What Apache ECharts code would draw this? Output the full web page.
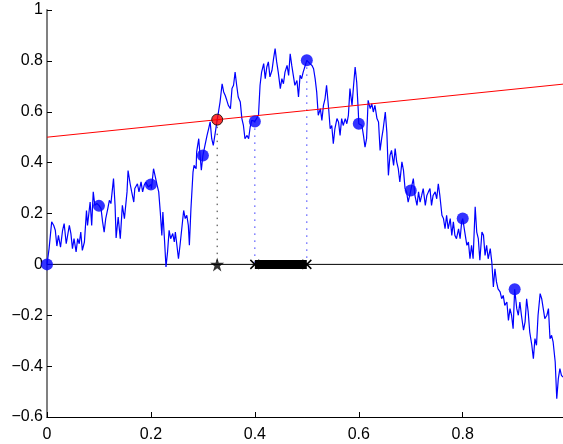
<!DOCTYPE html>
<html>
<head>
<meta charset="utf-8">
<script src="https://cdn.jsdelivr.net/npm/echarts@6/dist/echarts.min.js"></script>
<style>
  html, body { margin: 0; padding: 0; background: #fff; }
  #chart { width: 563px; height: 444px; }
</style>
</head>
<body>
<div id="chart"></div>
<script>
// random walk path
const walk = [
  [0,0],[0.004,0.062],[0.009,0.167],[0.013,0.153],[0.016,0.134],[0.019,0.072],[0.022,0.114],[0.026,0.068],[0.030,0.134],[0.033,0.160],
  [0.037,0.081],[0.040,0.075],[0.043,0.153],[0.046,0.121],[0.049,0.062],[0.052,0.101],[0.056,0.049],[0.059,0.101],[0.062,0.081],[0.065,0.127],
  [0.068,0.055],[0.072,0.088],[0.076,0.212],[0.078,0.153],[0.083,0.245],[0.086,0.153],[0.089,0.285],[0.092,0.232],[0.096,0.239],[0.100,0.232],
  [0.104,0.219],[0.107,0.167],[0.110,0.127],[0.113,0.180],[0.117,0.219],[0.120,0.252],[0.123,0.239],[0.128,0.337],[0.131,0.232],[0.133,0.104],
  [0.137,0.186],[0.141,0.101],[0.145,0.232],[0.149,0.180],[0.154,0.285],[0.156,0.369],[0.160,0.317],[0.163,0.285],[0.167,0.245],[0.169,0.298],
  [0.174,0.317],[0.177,0.285],[0.181,0.324],[0.184,0.285],[0.187,0.311],[0.190,0.324],[0.195,0.304],[0.200,0.314],[0.201,0.298],[0.205,0.376],
  [0.212,0.311],[0.215,0.285],[0.218,0.206],[0.221,0.114],[0.223,0.206],[0.226,0.101],[0.229,-0.010],[0.232,0.049],[0.235,0.134],[0.238,0.101],
  [0.242,0.121],[0.245,0.088],[0.247,0.127],[0.250,0.075],[0.253,0.022],[0.256,0.075],[0.260,0.153],[0.263,0.212],[0.266,0.180],[0.269,0.193],
  [0.272,0.153],[0.274,0.075],[0.277,0.219],[0.281,0.363],[0.283,0.389],[0.287,0.376],[0.288,0.442],[0.292,0.494],[0.294,0.442],[0.297,0.370],
  [0.300,0.428],[0.304,0.468],[0.308,0.507],[0.311,0.533],[0.314,0.560],[0.317,0.494],[0.320,0.468],[0.324,0.520],[0.3275,0.569],[0.330,0.599],
  [0.333,0.638],[0.337,0.710],[0.340,0.678],[0.343,0.664],[0.346,0.645],[0.349,0.625],[0.353,0.612],[0.356,0.691],[0.359,0.704],[0.362,0.756],
  [0.365,0.704],[0.368,0.658],[0.372,0.638],[0.375,0.573],[0.378,0.546],[0.381,0.494],[0.385,0.507],[0.388,0.494],[0.391,0.540],[0.394,0.566],
  [0.400,0.562],[0.407,0.586],[0.410,0.704],[0.413,0.756],[0.417,0.789],[0.420,0.730],[0.423,0.776],[0.426,0.796],[0.429,0.737],[0.433,0.763],
  [0.436,0.809],[0.439,0.848],[0.442,0.796],[0.445,0.756],[0.449,0.691],[0.452,0.730],[0.455,0.710],[0.458,0.756],[0.462,0.782],[0.465,0.743],
  [0.468,0.828],[0.471,0.782],[0.474,0.743],[0.477,0.704],[0.481,0.723],[0.484,0.658],[0.487,0.743],[0.490,0.730],[0.493,0.756],[0.497,0.782],
  [0.500,0.802],[0.506,0.789],[0.510,0.782],[0.513,0.769],[0.516,0.730],[0.519,0.678],[0.522,0.586],[0.526,0.612],[0.529,0.566],[0.532,0.625],
  [0.535,0.651],[0.538,0.704],[0.542,0.612],[0.545,0.533],[0.548,0.546],[0.551,0.474],[0.554,0.533],[0.558,0.573],[0.561,0.560],[0.564,0.507],
  [0.567,0.573],[0.570,0.546],[0.574,0.573],[0.577,0.553],[0.580,0.586],[0.583,0.691],[0.587,0.625],[0.590,0.704],[0.593,0.776],[0.596,0.717],
  [0.599,0.605],[0.600,0.553],[0.606,0.546],[0.609,0.507],[0.612,0.461],[0.615,0.494],[0.618,0.645],[0.622,0.612],[0.625,0.632],[0.628,0.599],
  [0.631,0.625],[0.635,0.573],[0.638,0.560],[0.641,0.448],[0.644,0.494],[0.647,0.533],[0.651,0.599],[0.654,0.520],[0.657,0.350],[0.660,0.428],
  [0.663,0.448],[0.667,0.389],[0.670,0.455],[0.673,0.403],[0.676,0.376],[0.679,0.324],[0.683,0.403],[0.686,0.370],[0.689,0.298],[0.692,0.285],
  [0.695,0.245],[0.700,0.290],[0.705,0.337],[0.708,0.271],[0.712,0.232],[0.715,0.285],[0.718,0.245],[0.721,0.271],[0.724,0.298],[0.728,0.232],
  [0.731,0.271],[0.734,0.285],[0.737,0.298],[0.740,0.232],[0.743,0.271],[0.747,0.285],[0.750,0.258],[0.753,0.317],[0.756,0.271],[0.760,0.193],
  [0.763,0.180],[0.766,0.140],[0.769,0.193],[0.772,0.140],[0.776,0.180],[0.779,0.114],[0.782,0.167],[0.785,0.114],[0.788,0.101],[0.792,0.140],
  [0.795,0.101],[0.798,0.167],[0.800,0.180],[0.804,0.127],[0.808,0.075],[0.811,0.088],[0.814,0.022],[0.817,0.075],[0.820,0.022],[0.824,0.226],
  [0.827,0.127],[0.830,0.101],[0.833,0.016],[0.837,0.127],[0.840,0.114],[0.843,0.035],[0.846,0.075],[0.849,0.022],[0.853,0.062],[0.856,0.009],
  [0.859,-0.089],[0.862,-0.017],[0.865,-0.069],[0.868,-0.096],[0.872,-0.108],[0.875,-0.135],[0.878,-0.122],[0.881,-0.161],[0.885,-0.148],[0.888,-0.220],
  [0.891,-0.174],[0.894,-0.200],[0.897,-0.253],[0.900,-0.098],[0.904,-0.174],[0.907,-0.200],[0.910,-0.148],[0.913,-0.200],[0.917,-0.259],[0.920,-0.226],
  [0.923,-0.135],[0.926,-0.187],[0.929,-0.266],[0.933,-0.318],[0.936,-0.371],[0.939,-0.292],[0.942,-0.318],[0.945,-0.200],[0.949,-0.115],[0.952,-0.135],
  [0.955,-0.174],[0.958,-0.213],[0.962,-0.200],[0.965,-0.174],[0.968,-0.292],[0.971,-0.279],[0.974,-0.305],[0.978,-0.384],[0.981,-0.528],[0.984,-0.449],
  [0.987,-0.410],[0.990,-0.436],[0.993,-0.443]
];

// sampled points (blue dots)
const sampleX = [0, 0.1, 0.2, 0.3, 0.4, 0.5, 0.6, 0.7, 0.8, 0.9];
const sampleY = [0, 0.23, 0.314, 0.428, 0.562, 0.802, 0.553, 0.29, 0.18, -0.098];

// red chord and the point where it meets the path
const chordX = [0, 1];
const chordY = [0.5, 0.71];
const hitX = 0.3275;
const hitY = 0.569;

// dotted drops to the axis and the marked band
const dropX = [0.3275, 0.4, 0.5];
const dropY = [0.569, 0.562, 0.802];
const bandX = [0.4, 0.5];

const xMin = 0, xMax = 0.993, xStep = 0.2;
const yMin = -0.6, yMax = 1, yStep = 0.2;

const starPath = 'path://M50,0L61,35L98,35L68,57L79,91L50,70L21,91L32,57L2,35L39,35Z';
const crossPath = 'path://M0,0L10,10M10,0L0,10';

function dropSeries(i, color) {
  return {
    type: 'line',
    data: [[dropX[i], dropY[i]], [dropX[i], 0]],
    showSymbol: false,
    lineStyle: { color: color, width: 1, type: [1.5, 5.5] },
    silent: true,
    z: 2
  };
}

const chart = echarts.init(document.getElementById('chart'));
const font = 'Liberation Sans, Arial, Helvetica, sans-serif';

const option = {
  animation: false,
  grid: { left: 47, right: 0, top: 10, bottom: 27 },
  xAxis: {
    type: 'value',
    min: xMin,
    max: xMax,
    interval: xStep,
    axisLine: { onZero: false, lineStyle: { color: '#000', width: 1 } },
    axisTick: { inside: true, length: 5, lineStyle: { color: '#000' } },
    axisLabel: {
      color: '#000', fontFamily: font, fontSize: 16, margin: 10,
      showMaxLabel: false,
      formatter: v => String(Math.round(v * 10) / 10)
    },
    splitLine: { show: false }
  },
  yAxis: {
    type: 'value',
    min: yMin,
    max: yMax,
    interval: yStep,
    axisLine: { onZero: false, lineStyle: { color: '#808080', width: 2 } },
    axisTick: { inside: true, length: 5, lineStyle: { color: '#000' } },
    axisLabel: {
      color: '#000', fontFamily: font, fontSize: 16, margin: 4,
      formatter: v => String(Math.round(v * 10) / 10).replace('-', '\u2212')
    },
    splitLine: { show: false }
  },
  series: [
    {
      // zero line
      type: 'line',
      data: [[xMin, 0], [1, 0]],
      showSymbol: false,
      lineStyle: { color: '#000', width: 1 },
      silent: true,
      z: 1
    },
    {
      type: 'line',
      data: walk,
      showSymbol: false,
      lineStyle: { color: '#0000ff', width: 1.2 },
      silent: true,
      z: 3
    },
    dropSeries(0, '#333'),
    dropSeries(1, '#3333ff'),
    dropSeries(2, '#3333ff'),
    {
      type: 'line',
      data: chordX.map((x, i) => [x, chordY[i]]),
      showSymbol: false,
      lineStyle: { color: '#ff0000', width: 1 },
      silent: true,
      z: 4
    },
    {
      // marked band on the axis
      type: 'line',
      data: bandX.map(x => [x, 0]),
      symbol: crossPath,
      symbolSize: 9,
      showSymbol: true,
      itemStyle: { color: '#000', borderColor: '#000', borderWidth: 1.5 },
      lineStyle: { color: '#000', width: 9 },
      silent: true,
      z: 5
    },
    {
      type: 'scatter',
      data: [[hitX, 0]],
      symbol: starPath,
      symbolSize: 14,
      itemStyle: { color: '#000' },
      silent: true,
      z: 5
    },
    {
      type: 'scatter',
      data: sampleX.map((x, i) => [x, sampleY[i]]),
      symbol: 'circle',
      symbolSize: 12,
      itemStyle: { color: '#0000ff' },
      silent: true,
      z: 6
    },
    {
      type: 'scatter',
      data: [[hitX, hitY]],
      symbol: 'circle',
      symbolSize: 11,
      itemStyle: { color: '#ff0000', borderColor: '#000', borderWidth: 1 },
      silent: true,
      z: 7
    }
  ]
};
chart.setOption(option);
</script>
</body>
</html>
